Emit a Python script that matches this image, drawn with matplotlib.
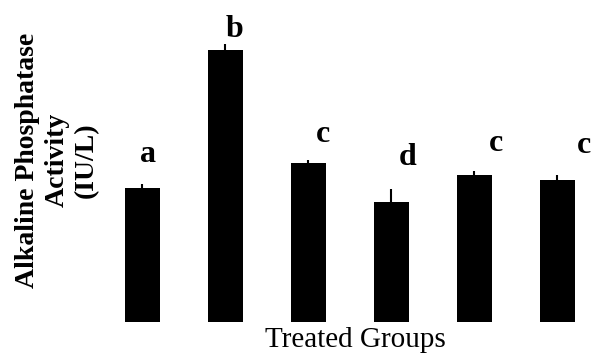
import matplotlib.pyplot as plt
import numpy as np

groups = ['G1', 'G2', 'G3', 'G4', 'G5', 'G6']
activity = [67, 136, 79.5, 60, 73.5, 71]
sem = [2, 3, 1.5, 6.5, 2, 2.5]
letters = ['a', 'b', 'c', 'd', 'c', 'c']
letter_y = [80, 142.5, 90, 78.5, 85.5, 84.5]
letter_dx = [0.066, 0.114, 0.175, 0.2, 0.26, 0.32]

plt.rcParams['font.family'] = ['Liberation Serif', 'DejaVu Serif']

fig = plt.figure(figsize=(5.91, 3.53), dpi=100)
ax = fig.add_axes([100 / 591, 31 / 353, 491 / 591, 322 / 353])

x = np.arange(len(groups))
ax.bar(x, activity, width=0.42, color='black',
       yerr=[np.zeros(len(sem)), sem], error_kw=dict(ecolor='black', elinewidth=1.5, capsize=0))

for xi, lab, ly, dx in zip(x, letters, letter_y, letter_dx):
    ax.text(xi + dx, ly, lab, ha='center', va='baseline', fontsize=23,
            fontweight='bold', clip_on=False)

ax.set_xlim(-0.512, 5.404)
ax.set_ylim(0, 161)
ax.set_xticks([])
ax.set_yticks([])
for s in ax.spines.values():
    s.set_visible(False)

fig.text(355 / 591, 6 / 353, 'Treated Groups', ha='center', va='baseline', fontsize=21)
fig.text(57 / 591, 193 / 353, 'Alkaline Phosphatase\nActivity\n(IU/L)', rotation=90,
         ha='center', va='center', fontsize=20, fontweight='bold', linespacing=1.25)

fig.savefig('out.png', dpi=100)
